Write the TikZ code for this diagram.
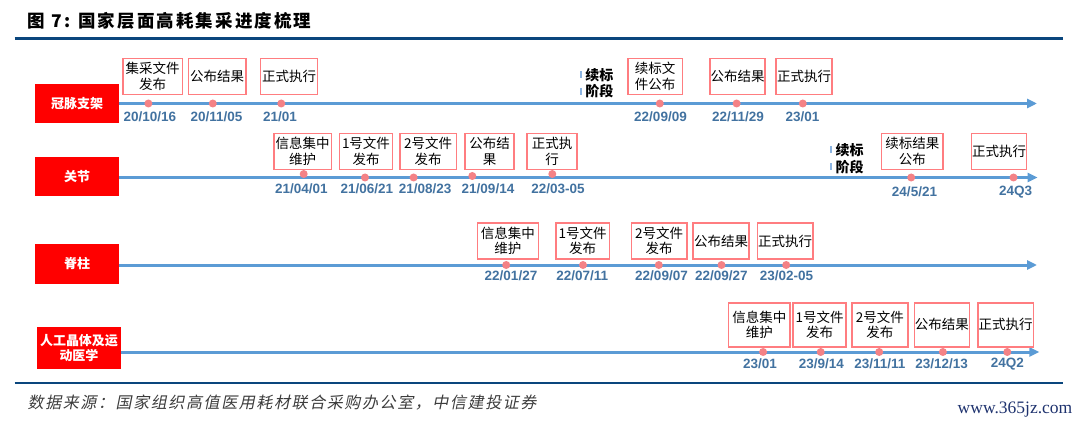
\documentclass[tikz,border=0pt]{standalone}
\usepackage{fontspec}
\setmainfont{Noto Sans CJK SC}
\newfontfamily\datefont{Liberation Sans}
\newfontfamily\titlefont[LetterSpace=12]{Noto Sans CJK SC}
\newfontfamily\srcfont[FakeSlant=0.2,LetterSpace=10]{Noto Sans CJK SC}
\newfontfamily\wmfont{Liberation Serif}
\usetikzlibrary{arrows.meta}
\definecolor{labc}{RGB}{255,0,0}
\definecolor{boxc}{RGB}{255,125,128}
\definecolor{dotc}{RGB}{244,130,134}
\definecolor{tlc}{RGB}{91,155,213}
\definecolor{datec}{RGB}{66,114,160}
\definecolor{rulec}{RGB}{10,70,125}
\definecolor{barc}{RGB}{140,180,225}
\definecolor{wmc}{RGB}{30,50,110}
\definecolor{srcc}{RGB}{60,60,60}
\begin{document}
\begin{tikzpicture}[x=1pt,y=-1pt,
  labbox/.style={fill=labc, text=white, font=\bfseries\fontsize{13}{15}\selectfont, inner sep=0, align=center, minimum width=84pt},
  evbox/.style={draw=boxc, line width=1.4pt, fill=white, inner sep=0, align=center, font=\fontsize{13.5}{15.5}\selectfont},
  datelab/.style={text=datec, font=\datefont\bfseries\fontsize{13.5}{15}\selectfont, inner sep=0},
  evdot/.style={circle, fill=dotc, minimum size=8pt, inner sep=0},
  tline/.style={draw=tlc, line width=3pt, -{Triangle[length=10pt,width=9pt]}},
  rulel/.style={draw=rulec, line width=3pt},
  xb/.style={font=\bfseries\fontsize{14}{16.5}\selectfont, inner sep=0, align=left},
  xbar/.style={draw=barc, line width=2pt}]
\useasboundingbox (0,0) rectangle (1080,425);

% title and rules
\node[anchor=west, inner sep=0, font=\titlefont\bfseries\fontsize{17.5}{20}\selectfont] (title) at (27.5,21) {图 7: 国家层面高耗集采进度梳理};
\coordinate (r1a) at (14.5,38.2); \coordinate (r1b) at (1063,38.2);
\draw[rulel] (r1a) -- (r1b);
\coordinate (r2a) at (14.5,383); \coordinate (r2b) at (1063,383);
\draw[rulel, line width=2.5pt] (r2a) -- (r2b);
\node[anchor=west, inner sep=0, text=srcc, font=\srcfont\fontsize{16}{18}\selectfont] (src) at (27.5,402.6) {数据来源：国家组织高值医用耗材联合采购办公室，中信建投证券};
\node[inner sep=0, text=wmc, font=\wmfont\fontsize{17.5}{20}\selectfont] (wm) at (1015,410) {www.365jz.com};

% row labels
\node[labbox, minimum height=38.6pt] (L1) at (77.1,103.3) {冠脉支架};
\node[labbox, minimum height=39pt] (L2) at (77.1,176.3) {关节};
\node[labbox, minimum height=40pt] (L3) at (77.1,263.7) {脊柱};
\node[labbox, minimum height=41.3pt, minimum width=84.4pt] (L4) at (79,347.9) {人工晶体及运\\动医学};

% timelines
\coordinate (E1) at (1037,103.5);
\coordinate (E2) at (1037.6,177.5);
\coordinate (E3) at (1037,265);
\coordinate (E4) at (1039.3,352);
\draw[tline] (L1.east |- E1) -- (E1);
\draw[tline] (L2.east |- E2) -- (E2);
\draw[tline] (L3.east |- E3) -- (E3);
\draw[tline] (L4.east |- E4) -- (E4);

% renewal labels
\node[xb] (X1) at (599.4,83) {续标\\阶段};
\draw[xbar] ([shift={(-4,-12)}]X1.west) -- ++(0,7);
\draw[xbar] ([shift={(-4,5)}]X1.west) -- ++(0,7);
\node[xb] (X2) at (849.5,158.5) {续标\\阶段};
\draw[xbar] ([shift={(-4,-12)}]X2.west) -- ++(0,7);
\draw[xbar] ([shift={(-4,5)}]X2.west) -- ++(0,7);

% row 1
\foreach \n/\x/\w/\t/\dx/\tx/\d in {
  1/152.7/59.6/{集采文件\\发布}/148.4/149.8/20\slash10\slash16,
  2/217.1/57.5/{公布结果}/212.8/216.6/20\slash11\slash05,
  3/289/56.8/{正式执行}/281.3/280/21\slash01,
  4/655/54.4/{续标文\\件公布}/659.8/660.5/22\slash09\slash09,
  5/737.5/54.8/{公布结果}/736.6/738/22\slash11\slash29,
  6/804/55.8/{正式执行}/802.8/802.5/23\slash01}{
  \node[evbox, minimum width=\w pt, minimum height=36.5pt] (a\n) at (\x,76.5) {\t};
  \node[evdot] (ad\n) at (\dx,103.5) {};
  \node[datelab] (at\n) at (\tx,116.5) {\d};
}

% row 2
\foreach \n/\x/\w/\t/\dx/\dy/\tx/\ty/\d in {
  1/302.7/57.8/{信息集中\\维护}/303.7/174/301.3/189/21\slash04\slash01,
  2/366/53/{1号文件\\发布}/365/177.5/366.8/189/21\slash06\slash21,
  3/428.2/56.1/{2号文件\\发布}/413.6/177.5/425.2/189/21\slash08\slash23,
  4/489.5/49/{公布结\\果}/472.3/176/488/189/21\slash09\slash14,
  5/552/50/{正式执\\行}/552.3/174/558/189/22\slash03-05,
  6/912.3/61.3/{续标结果\\公布}/911.2/177.5/914.5/192/24\slash5\slash21,
  7/999/55/{正式执行}/1013.5/177.5/1015.7/192/24Q3}{
  \node[evbox, minimum width=\w pt, minimum height=36pt] (b\n) at (\x,151.5) {\t};
  \node[evdot] (bd\n) at (\dx,\dy) {};
  \node[datelab] (bt\n) at (\tx,\ty) {\d};
}

% row 3
\foreach \n/\x/\w/\t/\dx/\tx/\d in {
  1/507.9/60.6/{信息集中\\维护}/506.2/511/22\slash01\slash27,
  2/582.7/53.8/{1号文件\\发布}/583/582.2/22\slash07\slash11,
  3/659.2/55.8/{2号文件\\发布}/658.8/661.5/22\slash09\slash07,
  4/721/55.8/{公布结果}/721.5/721.4/22\slash09\slash27,
  5/785.2/55.8/{正式执行}/786.2/786.6/23\slash02-05}{
  \node[evbox, minimum width=\w pt, minimum height=36pt] (c\n) at (\x,241) {\t};
  \node[evdot] (cd\n) at (\dx,265) {};
  \node[datelab] (ct\n) at (\tx,276) {\d};
}

% row 4
\foreach \n/\x/\w/\t/\dx/\tx/\d in {
  1/759.4/61.3/{信息集中\\维护}/763.1/760/23\slash01,
  2/819.6/53/{1号文件\\发布}/820.7/821.4/23\slash9\slash14,
  3/879.9/55.8/{2号文件\\发布}/879.2/879.9/23\slash11\slash11,
  4/941.8/55.1/{公布结果}/942.9/941.7/23\slash12\slash13,
  5/1005.7/55.5/{正式执行}/1007.3/1007.4/24Q2}{
  \node[evbox, minimum width=\w pt, minimum height=44pt] (d\n) at (\x,324.8) {\t};
  \node[evdot] (dd\n) at (\dx,352) {};
  \node[datelab] (dt\n) at (\tx,364) {\d};
}
\end{tikzpicture}
\end{document}
